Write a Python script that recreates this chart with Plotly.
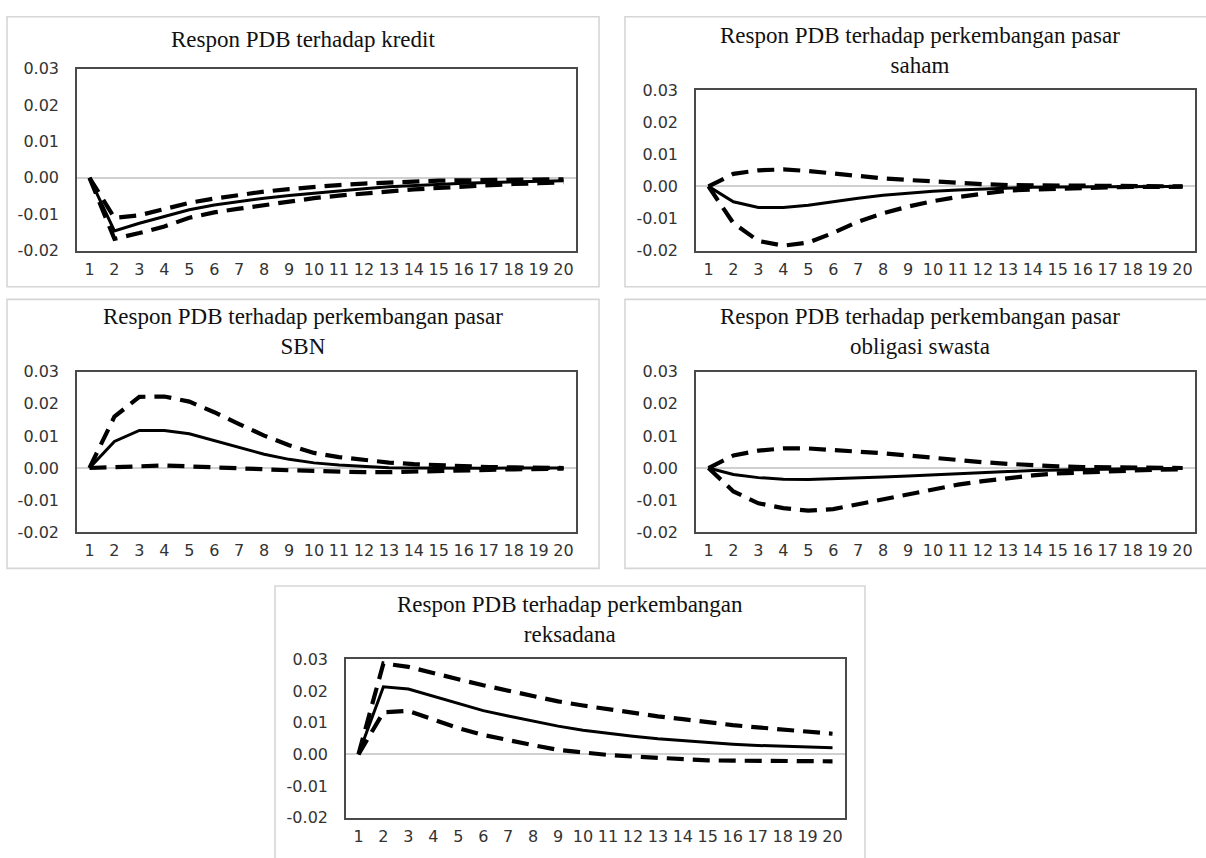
import plotly.graph_objects as go

W, H = 1206, 858

periods = list(range(1, 21))
y_ticks = [-0.02, -0.01, 0.0, 0.01, 0.02, 0.03]

# Impulse responses of PDB (solid) with upper / lower confidence bands (dashed)
kredit_resp = [0, -0.0146, -0.0125, -0.0106, -0.0088, -0.0075, -0.0065, -0.0056, -0.0049, -0.0042,
               -0.0035, -0.0030, -0.0025, -0.0021, -0.0018, -0.0015, -0.0013, -0.0011, -0.0009, -0.0008]
kredit_upper = [0, -0.0110, -0.0103, -0.0086, -0.0069, -0.0057, -0.0047, -0.0038, -0.0031, -0.0025,
                -0.0020, -0.0016, -0.0013, -0.0010, -0.0008, -0.0007, -0.0006, -0.0005, -0.0004, -0.0004]
kredit_lower = [0, -0.0168, -0.0152, -0.0134, -0.0110, -0.0095, -0.0085, -0.0075, -0.0064, -0.0056,
                -0.0049, -0.0043, -0.0038, -0.0032, -0.0028, -0.0024, -0.0020, -0.0017, -0.0015, -0.0012]

saham_resp = [0, -0.0048, -0.0066, -0.0066, -0.0059, -0.0047, -0.0037, -0.0028, -0.0021, -0.0015,
              -0.0011, -0.0008, -0.0005, -0.0003, -0.0002, -0.0001, 0.0, 0.0, 0.0, 0.0]
saham_upper = [0, 0.0039, 0.0050, 0.0053, 0.0048, 0.0040, 0.0032, 0.0025, 0.0020, 0.0015,
               0.0011, 0.0007, 0.0004, 0.0003, 0.0003, 0.0002, 0.0002, 0.0001, 0.0001, 0.0]
saham_lower = [0, -0.0115, -0.0170, -0.0185, -0.0175, -0.0145, -0.0110, -0.0084, -0.0063, -0.0046,
               -0.0033, -0.0022, -0.0013, -0.0010, -0.0007, -0.0005, -0.0003, -0.0002, -0.0001, -0.0001]

sbn_resp = [0, 0.0083, 0.0117, 0.0117, 0.0107, 0.0086, 0.0063, 0.0043, 0.0027, 0.0016,
            0.0009, 0.0004, 0.0001, 0.0, -0.0001, -0.0001, -0.0001, 0.0, 0.0, 0.0]
sbn_upper = [0, 0.0160, 0.0222, 0.0223, 0.0207, 0.0174, 0.0137, 0.0101, 0.0071, 0.0047,
             0.0034, 0.0024, 0.0017, 0.0012, 0.0008, 0.0005, 0.0003, 0.0002, 0.0001, 0.0]
sbn_lower = [0, 0.0003, 0.0008, 0.0008, 0.0005, 0.0003, 0.0, -0.0004, -0.0007, -0.0010,
             -0.0012, -0.0013, -0.0013, -0.0012, -0.0009, -0.0007, -0.0006, -0.0004, -0.0002, -0.0002]

obligasi_resp = [0, -0.0020, -0.0030, -0.0035, -0.0036, -0.0034, -0.0031, -0.0028, -0.0025, -0.0021,
                 -0.0018, -0.0014, -0.0011, -0.0008, -0.0006, -0.0004, -0.0003, -0.0002, -0.0002, -0.0001]
obligasi_upper = [0, 0.0039, 0.0054, 0.0061, 0.0061, 0.0057, 0.0051, 0.0046, 0.0039, 0.0031,
                  0.0024, 0.0018, 0.0013, 0.0008, 0.0005, 0.0003, 0.0002, 0.0001, 0.0001, 0.0]
obligasi_lower = [0, -0.0073, -0.0110, -0.0125, -0.0133, -0.0128, -0.0113, -0.0097, -0.0081, -0.0066,
                  -0.0052, -0.0041, -0.0031, -0.0023, -0.0017, -0.0013, -0.0010, -0.0008, -0.0005, -0.0004]

reksadana_resp = [0, 0.0213, 0.0206, 0.0183, 0.0159, 0.0138, 0.0121, 0.0104, 0.0089, 0.0076,
                  0.0066, 0.0057, 0.0049, 0.0043, 0.0037, 0.0032, 0.0028, 0.0025, 0.0022, 0.0021]
reksadana_upper = [0, 0.0287, 0.0276, 0.0258, 0.0237, 0.0218, 0.0200, 0.0183, 0.0167, 0.0154,
                   0.0142, 0.0131, 0.0120, 0.0111, 0.0101, 0.0092, 0.0085, 0.0078, 0.0071, 0.0065]
reksadana_lower = [0, 0.0133, 0.0137, 0.0110, 0.0083, 0.0061, 0.0044, 0.0029, 0.0014, 0.0005,
                   -0.0002, -0.0007, -0.0012, -0.0016, -0.0019, -0.0020, -0.0021, -0.0022, -0.0022, -0.0022]

titles = [
    "Respon PDB terhadap kredit",
    "Respon PDB terhadap perkembangan pasar<br>saham",
    "Respon PDB terhadap perkembangan pasar<br>SBN",
    "Respon PDB terhadap perkembangan pasar<br>obligasi swasta",
    "Respon PDB terhadap perkembangan<br>reksadana",
]
series = [
    (kredit_resp, kredit_upper, kredit_lower),
    (saham_resp, saham_upper, saham_lower),
    (sbn_resp, sbn_upper, sbn_lower),
    (obligasi_resp, obligasi_upper, obligasi_lower),
    (reksadana_resp, reksadana_upper, reksadana_lower),
]

# Layout geometry in pixels: plot area (x0, x1, y0, y1), chart frame, title centre y
plot_px = [(77, 576, 61, 247), (696, 1195, 83, 247), (77, 576, 371, 535),
           (696, 1195, 371, 535), (346, 845, 665, 827)]
frame_px = [(7, 599, 8, 284), (625, 1215, 8, 284), (7, 599, 297, 572),
            (625, 1215, 297, 572), (275, 865, 590, 870)]
title_cy_px = [31, 42, 330, 330, 624]

TITLE_FONT = dict(family="Liberation Serif", size=23, color="#111111")
TICK_FONT = dict(family="DejaVu Sans", size=16, color="#333333")


def px_x(v):
    return v / W


def px_y(v):
    return 1 - v / H


fig = go.Figure()
shapes = []
annotations = []

for i, ((resp, upper, lower), (x0, x1, y0, y1), (fx0, fx1, fy0, fy1)) in enumerate(
        zip(series, plot_px, frame_px)):
    n = i + 1
    xa = "x" if n == 1 else f"x{n}"
    ya = "y" if n == 1 else f"y{n}"

    fig.add_trace(go.Scatter(x=periods, y=resp, mode="lines", xaxis=xa, yaxis=ya,
                             line=dict(color="black", width=3), showlegend=False,
                             hoverinfo="skip"))
    for band in (upper, lower):
        fig.add_trace(go.Scatter(x=periods, y=band, mode="lines", xaxis=xa, yaxis=ya,
                                 line=dict(color="black", width=4.2, dash="17px,9px"),
                                 showlegend=False, hoverinfo="skip"))

    fig.layout[f"xaxis{'' if n == 1 else n}"] = dict(
        domain=[px_x(x0), px_x(x1)], anchor=ya, range=[0.5, 20.5],
        tickmode="array", tickvals=periods, ticktext=[str(p) for p in periods],
        showgrid=False, zeroline=False, showline=True, mirror=True,
        linecolor="#4a4a4a", linewidth=1.6, ticks="outside", ticklen=3,
        tickcolor="rgba(0,0,0,0)", tickfont=TICK_FONT, fixedrange=True)
    fig.layout[f"yaxis{'' if n == 1 else n}"] = dict(
        domain=[px_y(y1), px_y(y0)], anchor=xa, range=[-0.02, 0.03],
        tickmode="array", tickvals=y_ticks, ticktext=[f"{v:.2f}" for v in y_ticks],
        showgrid=False, zeroline=True, zerolinecolor="#d0d0d0", zerolinewidth=1.5,
        showline=True, mirror=True, linecolor="#4a4a4a", linewidth=1.6,
        ticks="outside", ticklen=13, tickcolor="rgba(0,0,0,0)", tickfont=TICK_FONT,
        fixedrange=True)

    # black zero reference across the periods
    shapes.append(dict(type="line", xref=xa, yref=ya, x0=1, x1=20, y0=0, y1=0,
                       line=dict(color="black", width=1.2), layer="below"))
    # chart frame
    shapes.append(dict(type="rect", xref="paper", yref="paper",
                       x0=px_x(fx0), x1=px_x(fx1), y0=px_y(fy1), y1=px_y(fy0),
                       line=dict(color="#d6d6d6", width=1.6), layer="below"))
    # title
    cx = (fx0 + fx1) / 2
    annotations.append(dict(text=titles[i], x=px_x(cx), y=px_y(title_cy_px[i]), xref="paper",
                            yref="paper", xanchor="center", yanchor="middle",
                            showarrow=False, font=TITLE_FONT))

fig.update_layout(
    width=W, height=H, margin=dict(l=0, r=0, t=0, b=0),
    paper_bgcolor="white", plot_bgcolor="white",
    shapes=shapes, annotations=annotations, showlegend=False,
)

fig.write_html("out.html", config={"displayModeBar": False},
               post_script="document.body.style.margin='0';")
